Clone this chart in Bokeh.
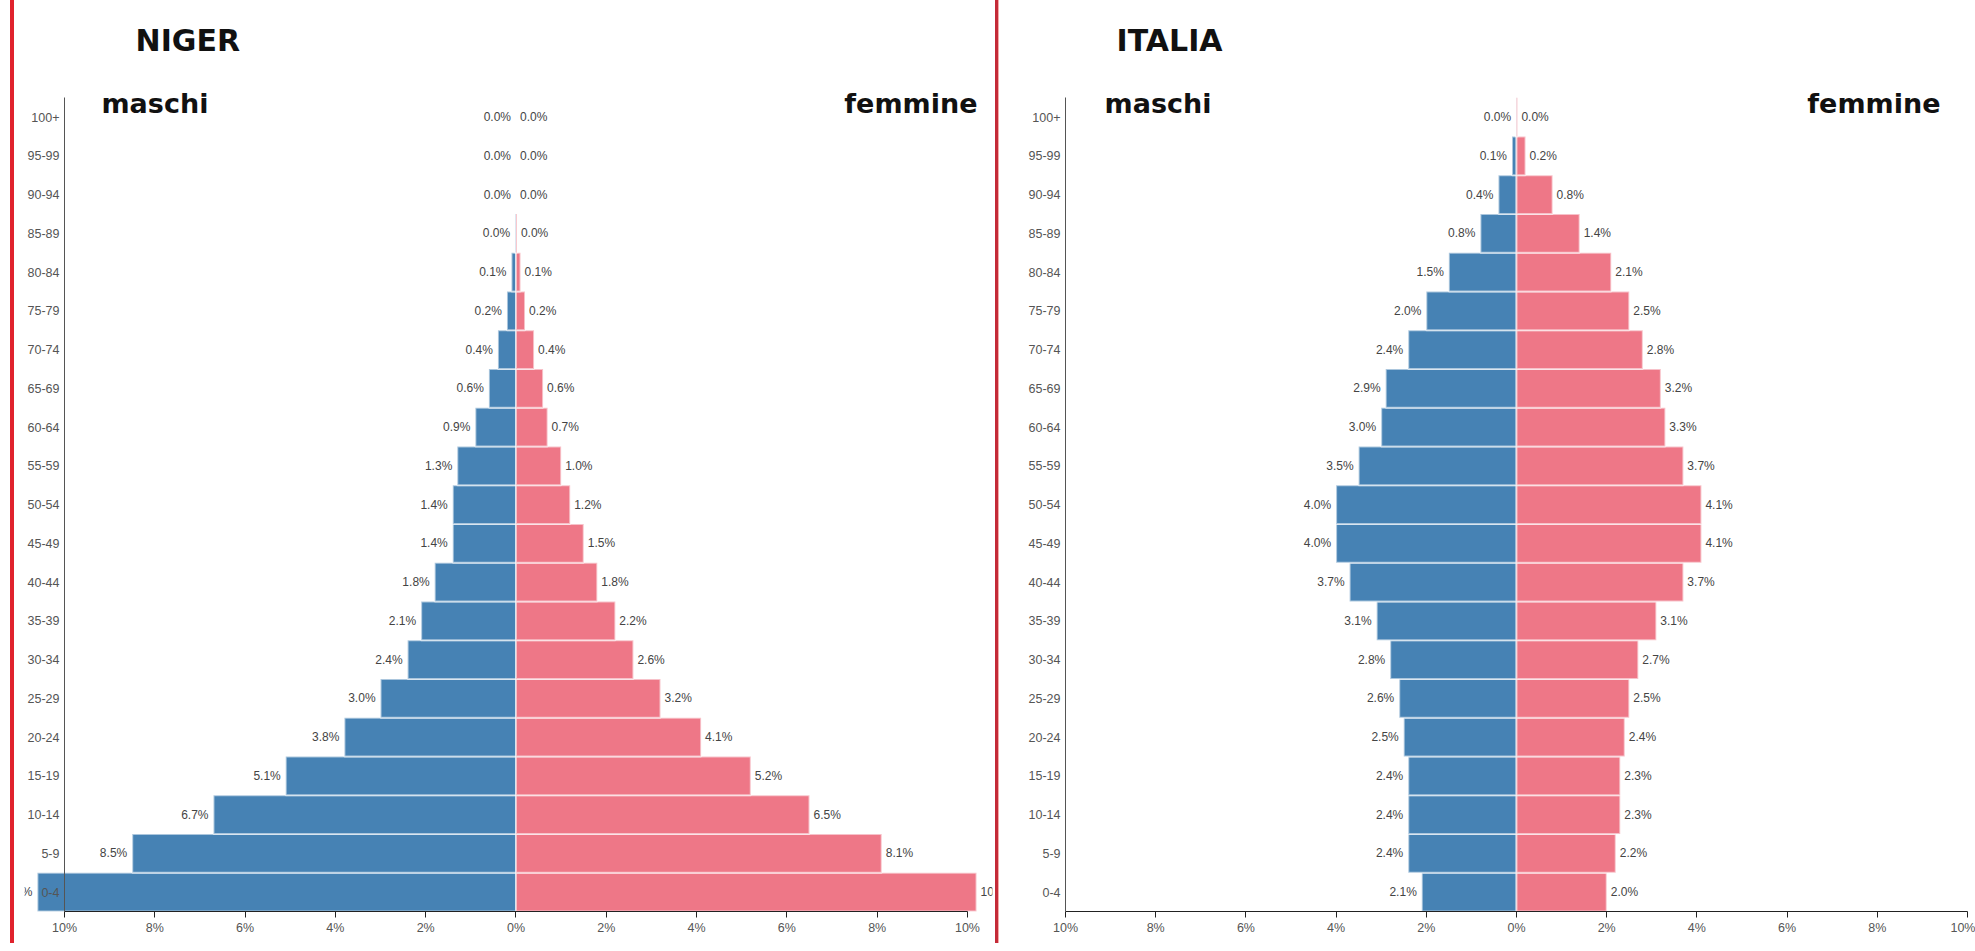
from bokeh.plotting import figure
from bokeh.models import (LinearAxis, FixedTicker, CustomJSTickFormatter, Label,
                          ColumnDataSource, Div)
from bokeh.layouts import row
from bokeh.core.properties import value
from bokeh.embed import file_html
from bokeh.resources import INLINE

# ---------------- data ----------------
age_groups = ["0-4", "5-9", "10-14", "15-19", "20-24", "25-29", "30-34", "35-39",
              "40-44", "45-49", "50-54", "55-59", "60-64", "65-69", "70-74", "75-79",
              "80-84", "85-89", "90-94", "95-99", "100+"]

niger_male = [10.6, 8.5, 6.7, 5.1, 3.8, 3.0, 2.4, 2.1, 1.8, 1.4, 1.4, 1.3, 0.9, 0.6,
              0.4, 0.2, 0.1, 0.02, 0.0, 0.0, 0.0]
niger_female = [10.2, 8.1, 6.5, 5.2, 4.1, 3.2, 2.6, 2.2, 1.8, 1.5, 1.2, 1.0, 0.7, 0.6,
                0.4, 0.2, 0.1, 0.02, 0.0, 0.0, 0.0]

italia_male = [2.1, 2.4, 2.4, 2.4, 2.5, 2.6, 2.8, 3.1, 3.7, 4.0, 4.0, 3.5, 3.0, 2.9,
               2.4, 2.0, 1.5, 0.8, 0.4, 0.1, 0.01]
italia_female = [2.0, 2.2, 2.3, 2.3, 2.4, 2.5, 2.7, 3.1, 3.7, 4.1, 4.1, 3.7, 3.3, 3.2,
                 2.8, 2.5, 2.1, 1.4, 0.8, 0.2, 0.02]

x_ticks = [-10, -8, -6, -4, -2, 0, 2, 4, 6, 8, 10]
country_names = ["NIGER", "ITALIA"]
side_labels = ["maschi", "femmine"]

# ---------------- style ----------------
BLUE = "#4682B4"
PINK = "#EE7787"
TOP = 8
FRAME_H = 903
BOTTOM = 32
FIG_H = TOP + FRAME_H + BOTTOM


def make_panel(title, male, female, width, x_start, x_end, mb_left, mb_right,
               title_x, maschi_x, femmine_x):
    p = figure(width=width, height=FIG_H, x_range=(x_start, x_end),
               y_range=(-0.5, 22.803), x_axis_type=None, y_axis_type=None,
               output_backend="svg", toolbar_location=None, title=None,
               min_border_left=mb_left, min_border_right=mb_right,
               min_border_top=TOP, min_border_bottom=BOTTOM)
    p.outline_line_color = None
    p.background_fill_color = "white"
    p.border_fill_color = "white"

    rows = list(range(len(age_groups)))
    src = ColumnDataSource(dict(
        y=rows,
        mleft=[-v for v in male],
        fright=female,
        zero=[0] * len(rows),
        mlab=[f"{v:.1f}%" for v in male],
        flab=[f"{v:.1f}%" for v in female],
    ))
    p.hbar(y="y", left="mleft", right="zero", height=1.0, source=src,
           fill_color=BLUE, line_color="white", line_alpha=0.55, line_width=2)
    p.hbar(y="y", left="zero", right="fright", height=1.0, source=src,
           fill_color=PINK, line_color="white", line_alpha=0.55, line_width=2)

    p.text(x="mleft", y="y", text="mlab", source=src, x_offset=-5,
           text_align="right", text_baseline="middle", text_color="#444444",
           text_font=value("Liberation Sans"), text_font_size=value("12px"))
    p.text(x="fright", y="y", text="flab", source=src, x_offset=4,
           text_align="left", text_baseline="middle", text_color="#444444",
           text_font=value("Liberation Sans"), text_font_size=value("12px"))

    # axes
    xaxis = LinearAxis(ticker=FixedTicker(ticks=x_ticks),
                       formatter=CustomJSTickFormatter(code="return Math.abs(tick).toFixed(0) + '%';"),
                       bounds=(-10, 10))
    xaxis.axis_line_color = "#222222"
    xaxis.major_tick_line_color = "#222222"
    xaxis.major_tick_out = 6
    xaxis.major_tick_in = 0
    xaxis.minor_tick_line_color = None
    xaxis.major_label_standoff = 3
    xaxis.major_label_text_font = "Liberation Sans"
    xaxis.major_label_text_font_size = "12.5px"
    xaxis.major_label_text_color = "#555555"
    p.add_layout(xaxis, "below")

    yaxis = LinearAxis(ticker=FixedTicker(ticks=rows),
                       formatter=CustomJSTickFormatter(args=dict(labels=age_groups),
                                                       code="return labels[Math.round(tick)];"),
                       bounds=(-0.5, 20.5), fixed_location=-10)
    yaxis.axis_line_color = "#555555"
    yaxis.major_tick_line_color = None
    yaxis.minor_tick_line_color = None
    yaxis.major_tick_out = 0
    yaxis.major_tick_in = 0
    yaxis.major_label_standoff = 5
    yaxis.major_label_text_font = "Liberation Sans"
    yaxis.major_label_text_font_size = "12.5px"
    yaxis.major_label_text_color = "#555555"
    p.add_layout(yaxis, "left")

    p.add_layout(Label(x=title_x, y=21.98, text=title, text_font="DejaVu Sans",
                       text_font_style="bold", text_font_size="30px",
                       text_color="#111111", text_align="left",
                       text_baseline="alphabetic"))
    p.add_layout(Label(x=maschi_x, y=20.35, text=side_labels[0], text_font="DejaVu Sans",
                       text_font_style="bold", text_font_size="27px",
                       text_color="#111111", text_align="left",
                       text_baseline="alphabetic"))
    p.add_layout(Label(x=femmine_x, y=20.35, text=side_labels[1], text_font="DejaVu Sans",
                       text_font_style="bold", text_font_size="27px",
                       text_color="#111111", text_align="right",
                       text_baseline="alphabetic"))
    return p


p1 = make_panel(country_names[0], niger_male, niger_female, 981, -10.886, 10.554, 10, 3,
                -8.427, -9.181, 10.221)
p2 = make_panel(country_names[1], italia_male, italia_female, 976, -11.242, 10.0, 10, 8,
                -8.869, -9.135, 9.401)

spacer = Div(width=10, height=FIG_H, text="", margin=0)
red_left = Div(width=4, height=FIG_H, text="", margin=0,
               styles={"background-color": "#e0222d"})
red_mid = Div(width=3, height=FIG_H, text="", margin=0,
              styles={"background-color": "#c42a38"})
salmon = Div(width=1, height=FIG_H, text="", margin=0,
             styles={"background-color": "#f5a9a9"})

layout = row(spacer, red_left, p1, red_mid, salmon, p2, spacing=0)

open("out.html", "w").write(file_html(layout, INLINE))
